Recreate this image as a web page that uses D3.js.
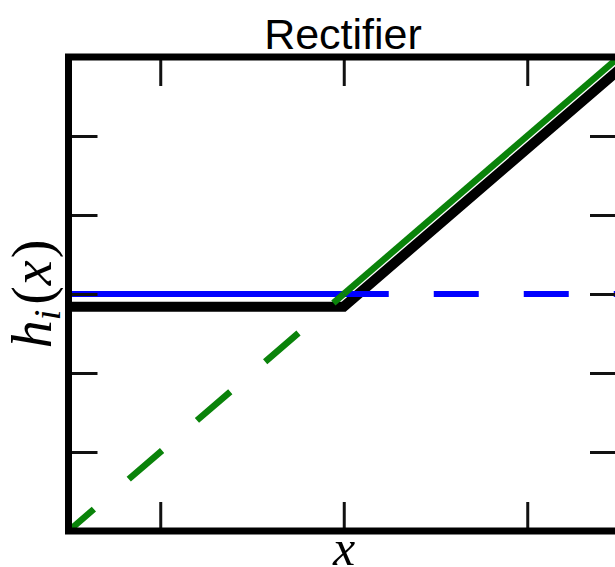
<!DOCTYPE html>
<html>
<head>
<meta charset="utf-8">
<script src="https://cdn.jsdelivr.net/npm/d3@7"></script>
<style>
  html, body { margin: 0; padding: 0; background: #fff; }
  svg { display: block; }
</style>
</head>
<body>
<svg id="chart" width="615" height="567"></svg>
<script>
// ---- data ----
const xDomain = [-1.5, 1.5];
const yDomain = [-1.5, 1.5];
const xTicks = [-1, 0, 1];
const yTicks = [-1, -0.5, 0, 0.5, 1];
// rectifier output (drawn slightly offset as in the original)
const rectX = [-1.5, 0, 1.5];
const rectY = [-0.08, -0.08, 1.42];
// constant (blue) : solid for x<0, dashed for x>0
const constSolidX = [-1.5, 0];
const constSolidY = [0, 0];
const constDashX = [0, 1.5];
const constDashY = [0, 0];
// identity (green) : dashed for x<0, solid for x>0
const linDashX = [-1.5, 0];
const linDashY = [-1.5, 0];
const linSolidX = [0, 1.5];
const linSolidY = [0, 1.5];

const svg = d3.select("#chart");
const L = 68.5, R = 619, T = 57, B = 531;

const x = d3.scaleLinear().domain(xDomain).range([L, R]);
const y = d3.scaleLinear().domain(yDomain).range([B, T]);

svg.append("rect").attr("width", 615).attr("height", 567).attr("fill", "#fff");

svg.append("clipPath").attr("id", "plotclip")
  .append("rect").attr("x", L).attr("y", T).attr("width", R - L).attr("height", B - T);

const line = d3.line().x(d => x(d[0])).y(d => y(d[1]));
const zipPts = (xs, ys) => xs.map((v, i) => [v, ys[i]]);

const g = svg.append("g").attr("clip-path", "url(#plotclip)");

g.append("path").attr("d", line(zipPts(rectX, rectY)))
  .attr("fill", "none").attr("stroke", "#000").attr("stroke-width", 10)
  .attr("stroke-linejoin", "miter");

g.append("path").attr("d", line(zipPts(constSolidX, constSolidY)))
  .attr("fill", "none").attr("stroke", "#0000ff").attr("stroke-width", 6);
g.append("path").attr("d", line(zipPts(constDashX, constDashY)))
  .attr("fill", "none").attr("stroke", "#0000ff").attr("stroke-width", 6)
  .attr("stroke-dasharray", "45,45");

g.append("path").attr("d", line(zipPts(linDashX, linDashY)))
  .attr("fill", "none").attr("stroke", "#0a830a").attr("stroke-width", 6.5)
  .attr("stroke-dasharray", "44,46").attr("stroke-dashoffset", 10.5);
g.append("path").attr("d", line(zipPts(linSolidX, linSolidY)))
  .attr("fill", "none").attr("stroke", "#0a830a").attr("stroke-width", 6.5);

// ticks (inward, on all four sides)
const tickLen = 29;
const tickStyle = sel => sel.call(s => s.select(".domain").remove())
  .call(s => s.selectAll(".tick line").attr("stroke", "#111").attr("stroke-width", 3))
  .call(s => s.selectAll(".tick text").remove());

svg.append("g").attr("transform", `translate(0,${B})`)
  .call(d3.axisBottom(x).tickValues(xTicks).tickSizeInner(-tickLen).tickSizeOuter(0)).call(tickStyle);
svg.append("g").attr("transform", `translate(0,${T})`)
  .call(d3.axisTop(x).tickValues(xTicks).tickSizeInner(-tickLen).tickSizeOuter(0)).call(tickStyle);
svg.append("g").attr("transform", `translate(${L},0)`)
  .call(d3.axisLeft(y).tickValues(yTicks).tickSizeInner(-tickLen).tickSizeOuter(0)).call(tickStyle);
svg.append("g").attr("transform", `translate(${R},0)`)
  .call(d3.axisRight(y).tickValues(yTicks).tickSizeInner(-tickLen).tickSizeOuter(0)).call(tickStyle);

// frame
svg.append("rect").attr("x", L).attr("y", T).attr("width", R - L).attr("height", B - T)
  .attr("fill", "none").attr("stroke", "#000").attr("stroke-width", 7);

// title
svg.append("text").attr("x", 343).attr("y", 49)
  .attr("text-anchor", "middle")
  .attr("font-family", "'Liberation Sans', Arial, sans-serif")
  .attr("font-size", 43).attr("fill", "#000")
  .text("Rectifier");

// x label
svg.append("text").attr("x", 344).attr("y", 565)
  .attr("text-anchor", "middle")
  .attr("font-family", "'Liberation Serif', 'Times New Roman', serif")
  .attr("font-style", "italic")
  .attr("font-size", 50).attr("fill", "#000")
  .text("x");

// y label
const yl = svg.append("text")
  .attr("transform", `translate(51,${(T + B) / 2}) rotate(-90)`)
  .attr("text-anchor", "middle")
  .attr("font-family", "'Liberation Serif', 'Times New Roman', serif")
  .attr("font-size", 56).attr("fill", "#000");
yl.append("tspan").attr("font-style", "italic").text("h");
yl.append("tspan").attr("font-style", "italic").attr("font-size", 38).attr("dy", 9).text("i");
yl.append("tspan").attr("dy", -9).attr("dx", 5).text("(");
yl.append("tspan").attr("font-style", "italic").attr("dx", 1).text("x");
yl.append("tspan").attr("dx", 2).text(")");
</script>
</body>
</html>
